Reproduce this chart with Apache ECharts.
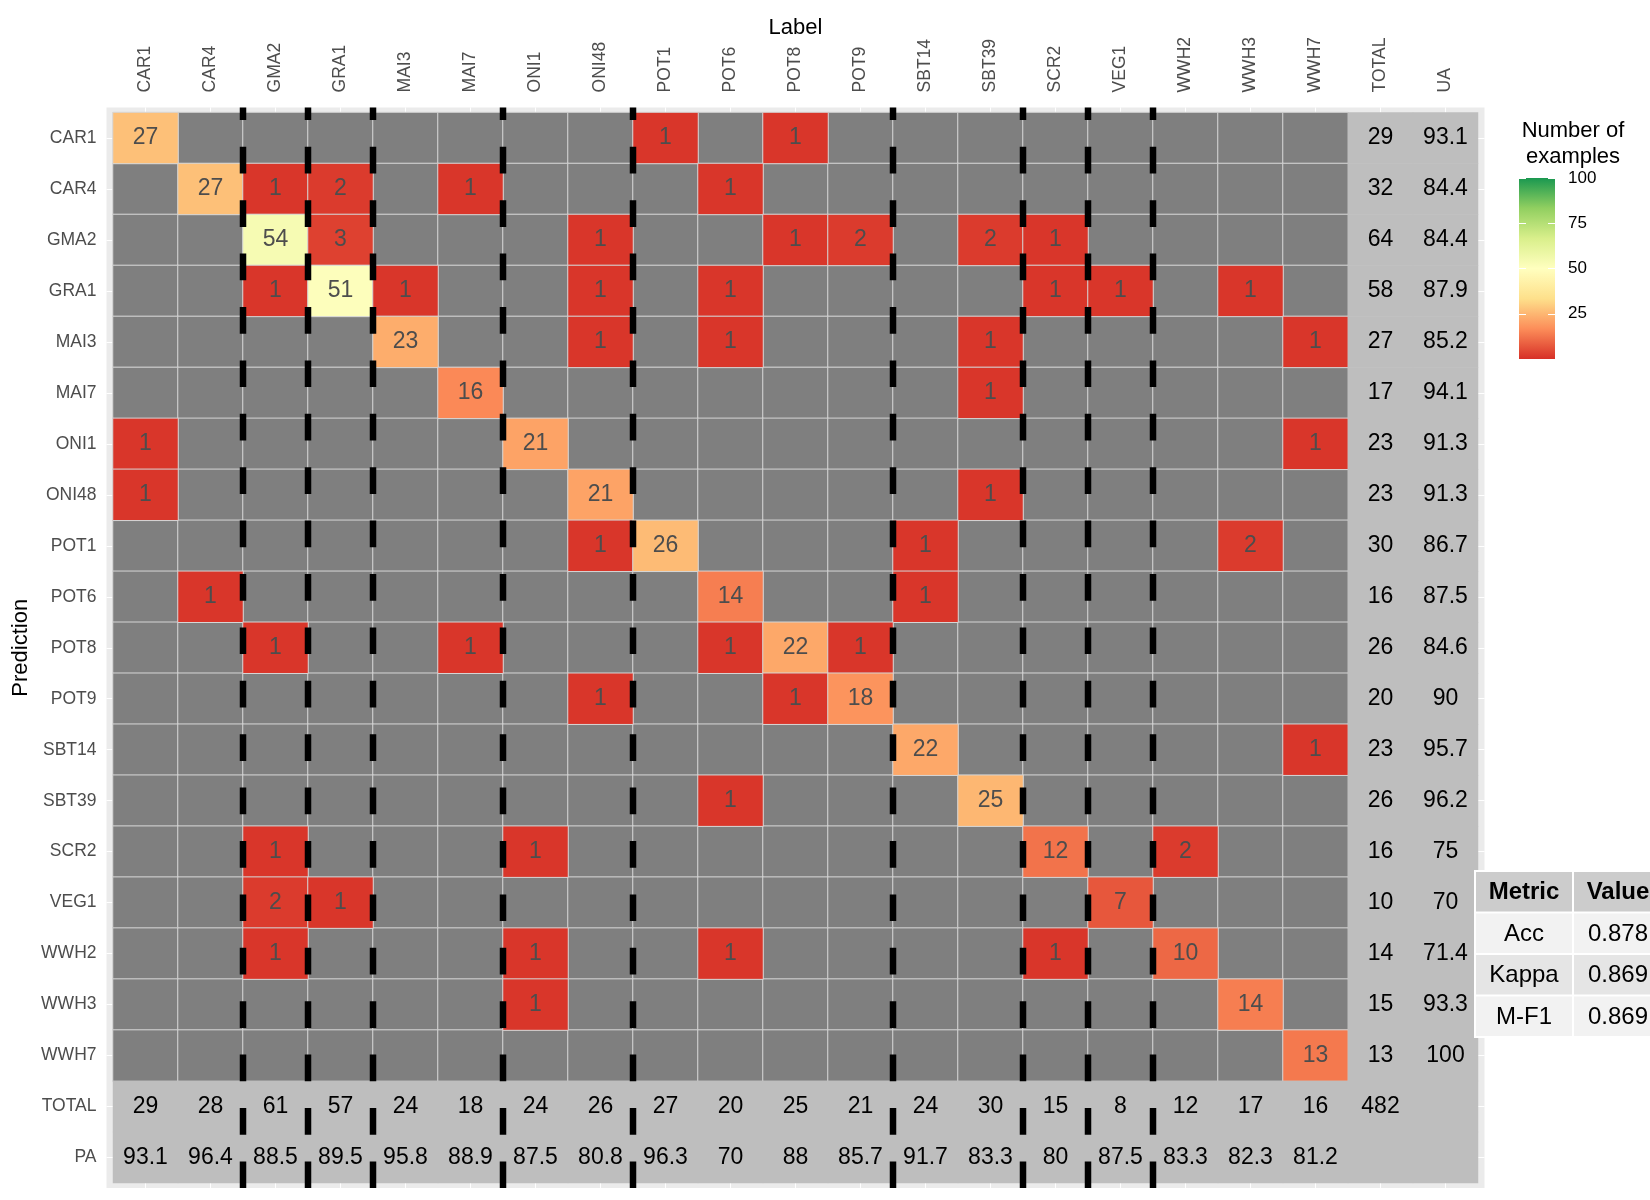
<!DOCTYPE html>
<html>
<head>
<meta charset="utf-8">
<title>Confusion matrix</title>
<script src="https://cdn.jsdelivr.net/npm/echarts@6/dist/echarts.min.js"></script>
<style>
  html, body { margin: 0; padding: 0; background: #fff; }
  #main { width: 1650px; height: 1200px; }
</style>
</head>
<body>
<div id="main"></div>
<script>
// classes, in axis order
var classes = ['CAR1', 'CAR4', 'GMA2', 'GRA1', 'MAI3', 'MAI7', 'ONI1', 'ONI48', 'POT1', 'POT6',
               'POT8', 'POT9', 'SBT14', 'SBT39', 'SCR2', 'VEG1', 'WWH2', 'WWH3', 'WWH7'];
var colLabels = classes.concat(['TOTAL', 'UA']);
var rowLabels = classes.concat(['TOTAL', 'PA']);

// rows = Prediction, columns = Label
var counts = [
    [27, 0, 0, 0, 0, 0, 0, 0, 1, 0, 1, 0, 0, 0, 0, 0, 0, 0, 0],
    [0, 27, 1, 2, 0, 1, 0, 0, 0, 1, 0, 0, 0, 0, 0, 0, 0, 0, 0],
    [0, 0, 54, 3, 0, 0, 0, 1, 0, 0, 1, 2, 0, 2, 1, 0, 0, 0, 0],
    [0, 0, 1, 51, 1, 0, 0, 1, 0, 1, 0, 0, 0, 0, 1, 1, 0, 1, 0],
    [0, 0, 0, 0, 23, 0, 0, 1, 0, 1, 0, 0, 0, 1, 0, 0, 0, 0, 1],
    [0, 0, 0, 0, 0, 16, 0, 0, 0, 0, 0, 0, 0, 1, 0, 0, 0, 0, 0],
    [1, 0, 0, 0, 0, 0, 21, 0, 0, 0, 0, 0, 0, 0, 0, 0, 0, 0, 1],
    [1, 0, 0, 0, 0, 0, 0, 21, 0, 0, 0, 0, 0, 1, 0, 0, 0, 0, 0],
    [0, 0, 0, 0, 0, 0, 0, 1, 26, 0, 0, 0, 1, 0, 0, 0, 0, 2, 0],
    [0, 1, 0, 0, 0, 0, 0, 0, 0, 14, 0, 0, 1, 0, 0, 0, 0, 0, 0],
    [0, 0, 1, 0, 0, 1, 0, 0, 0, 1, 22, 1, 0, 0, 0, 0, 0, 0, 0],
    [0, 0, 0, 0, 0, 0, 0, 1, 0, 0, 1, 18, 0, 0, 0, 0, 0, 0, 0],
    [0, 0, 0, 0, 0, 0, 0, 0, 0, 0, 0, 0, 22, 0, 0, 0, 0, 0, 1],
    [0, 0, 0, 0, 0, 0, 0, 0, 0, 1, 0, 0, 0, 25, 0, 0, 0, 0, 0],
    [0, 0, 1, 0, 0, 0, 1, 0, 0, 0, 0, 0, 0, 0, 12, 0, 2, 0, 0],
    [0, 0, 2, 1, 0, 0, 0, 0, 0, 0, 0, 0, 0, 0, 0, 7, 0, 0, 0],
    [0, 0, 1, 0, 0, 0, 1, 0, 0, 1, 0, 0, 0, 0, 1, 0, 10, 0, 0],
    [0, 0, 0, 0, 0, 0, 1, 0, 0, 0, 0, 0, 0, 0, 0, 0, 0, 14, 0],
    [0, 0, 0, 0, 0, 0, 0, 0, 0, 0, 0, 0, 0, 0, 0, 0, 0, 0, 13]
];

var rowTotals = [29, 32, 64, 58, 27, 17, 23, 23, 30, 16, 26, 20, 23, 26, 16, 10, 14, 15, 13];
var uaValues = [93.1, 84.4, 84.4, 87.9, 85.2, 94.1, 91.3, 91.3, 86.7, 87.5, 84.6, 90, 95.7, 96.2, 75, 70, 71.4, 93.3, 100];
var colTotals = [29, 28, 61, 57, 24, 18, 24, 26, 27, 20, 25, 21, 24, 30, 15, 8, 12, 17, 16];
var paValues = [93.1, 96.4, 88.5, 89.5, 95.8, 88.9, 87.5, 80.8, 96.3, 70, 88, 85.7, 91.7, 83.3, 80, 87.5, 83.3, 82.3, 81.2];
var grandTotal = 482;

// a dashed separator is drawn on the left side of these label columns
var dashedBefore = ['GMA2', 'GRA1', 'MAI3', 'ONI1', 'POT1', 'SBT14', 'SCR2', 'VEG1', 'WWH2'];

var metricNames = ['Acc', 'Kappa', 'M-F1'];
var metricValues = ['0.878', '0.869', '0.869'];

var legendBreaks = [25, 50, 75, 100];
var rdYlGn = ['#D73027', '#FC8D59', '#FEE08B', '#FFFFBF', '#D9EF8B', '#91CF60', '#1A9850'];

// layout (pixels)
var gx = 113, gy = 112.5, gw = 1365, gh = 1070.5;
var padX = 6.5, padY = 5.1;
var font = '"Liberation Sans", Arial, Helvetica, sans-serif';

// build heatmap cells
var zeroCells = [], countCells = [], marginCells = [];
counts.forEach(function (row, i) {
    row.forEach(function (v, j) {
        if (v === 0) zeroCells.push([j, i, 0]);
        else countCells.push([j, i, v]);
    });
    marginCells.push([19, i, rowTotals[i], String(rowTotals[i])]);
    marginCells.push([20, i, uaValues[i], String(uaValues[i])]);
});
colTotals.forEach(function (v, j) {
    marginCells.push([j, 19, v, String(v)]);
    marginCells.push([j, 20, paValues[j], String(paValues[j])]);
});
marginCells.push([19, 19, grandTotal, String(grandTotal)]);
marginCells.push([20, 19, 0, '']);
marginCells.push([19, 20, 0, '']);
marginCells.push([20, 20, 0, '']);

function whiteTicks(len) {
    return { show: true, alignWithLabel: true, interval: 0, length: len, lineStyle: { color: '#fff', width: 1 } };
}

function renderSeparator(params, api) {
    var size = api.size([1, 1]);
    var x = api.coord([api.value(0), 0])[0] - size[0] / 2;
    var top = api.coord([0, 0])[1] - size[1] / 2 - padY;
    var bottom = api.coord([0, rowLabels.length - 1])[1] + size[1] / 2 + padY;
    return {
        type: 'line',
        shape: { x1: x, y1: bottom, x2: x, y2: top },
        style: { stroke: '#000', lineWidth: 6.5, lineDash: [26.7, 26.7], lineCap: 'butt' }
    };
}

// panel background, legend title, metrics table
var graphics = [
    { type: 'rect', z: -10, silent: true,
      shape: { x: gx - padX, y: gy - padY, width: gw + 2 * padX, height: gh + 2 * padY },
      style: { fill: '#EBEBEB' } },
    { type: 'text', x: 1573, y: 117.5, silent: true,
      style: { text: 'Number of\nexamples', align: 'center', verticalAlign: 'top',
               font: '22px ' + font, lineHeight: 26, fill: '#000' } }
];

var tX = 1476, tY = 872, colW = [96, 88], rowH = 39.5, gap = 2;
var tableRows = [['Metric', 'Value']];
metricNames.forEach(function (n, i) { tableRows.push([n, metricValues[i]]); });
var rowFills = ['#CCCCCC', '#F2F2F2', '#E5E5E5', '#F2F2F2'];
graphics.push({ type: 'rect', z: 50, silent: true,
    shape: { x: tX - 2, y: tY - 2, width: 300, height: tableRows.length * (rowH + gap) + 2 },
    style: { fill: '#fff' } });
tableRows.forEach(function (r, i) {
    var cx = tX;
    r.forEach(function (txt, c) {
        var y = tY + i * (rowH + gap);
        graphics.push({ type: 'rect', z: 51, silent: true,
            shape: { x: cx, y: y, width: colW[c], height: rowH },
            style: { fill: rowFills[i] } });
        graphics.push({ type: 'text', z: 52, silent: true,
            x: cx + colW[c] / 2, y: y + rowH / 2 + 1,
            style: { text: txt, align: 'center', verticalAlign: 'middle',
                     font: (i === 0 ? 'bold ' : '') + '24px ' + font, fill: '#000' } });
        cx += colW[c] + gap;
    });
});

var myChart = echarts.init(document.getElementById('main'));
var option = {
    animation: false,
    textStyle: { fontFamily: font },
    title: {
        text: 'Label', left: gx + gw / 2, top: 17, textAlign: 'center', padding: 0,
        textStyle: { fontSize: 22, fontWeight: 'normal', color: '#000' }
    },
    grid: [
        { left: gx, top: gy, width: gw, height: gh, containLabel: false },
        { left: 1519, top: 178, width: 36, height: 181, containLabel: false }
    ],
    xAxis: [
        {
            type: 'category', data: colLabels, position: 'top', offset: padY,
            axisLine: { show: false },
            axisTick: { alignWithLabel: true, interval: 0, length: 5.5, lineStyle: { color: '#333', width: 1.5 } },
            axisLabel: { interval: 0, rotate: -90, color: '#4D4D4D', fontSize: 17.5, margin: 15 },
            splitLine: { show: false }
        },
        { type: 'category', data: colLabels, position: 'top', offset: 0,
          axisLine: { show: false }, axisTick: whiteTicks(padY), axisLabel: { show: false } },
        { type: 'category', data: colLabels, position: 'bottom', offset: 0,
          axisLine: { show: false }, axisTick: whiteTicks(padY), axisLabel: { show: false } },
        { type: 'category', gridIndex: 1, data: [''], show: false }
    ],
    yAxis: [
        {
            type: 'category', data: rowLabels, inverse: true, position: 'left', offset: padX,
            axisLine: { show: false },
            axisTick: { alignWithLabel: true, interval: 0, length: 5.5, lineStyle: { color: '#333', width: 1.5 } },
            axisLabel: { interval: 0, color: '#4D4D4D', fontSize: 17.5, margin: 10 },
            splitLine: { show: false },
            name: 'Prediction', nameLocation: 'middle', nameGap: 75, nameRotate: 90,
            nameMoveOverlap: false,
            nameTextStyle: { fontSize: 22, color: '#000' }
        },
        { type: 'category', data: rowLabels, inverse: true, position: 'left', offset: 0,
          axisLine: { show: false }, axisTick: whiteTicks(padX), axisLabel: { show: false } },
        { type: 'category', data: rowLabels, inverse: true, position: 'right', offset: 0,
          axisLine: { show: false }, axisTick: whiteTicks(padX), axisLabel: { show: false } },
        {
            type: 'value', gridIndex: 1, min: 0, max: 100, interval: 25, position: 'right', z: 5,
            axisLine: { show: false },
            axisTick: { show: true, inside: true, length: 7, customValues: legendBreaks,
                        lineStyle: { color: '#fff', width: 1 } },
            axisLabel: { customValues: legendBreaks, color: '#000', fontSize: 17, margin: 13,
                         formatter: function (v) { return v === 0 ? '' : v; } },
            splitLine: { show: false }
        },
        {
            type: 'value', gridIndex: 1, min: 0, max: 100, interval: 25, position: 'left', z: 5,
            axisLine: { show: false },
            axisTick: { show: true, inside: true, length: 7, customValues: legendBreaks,
                        lineStyle: { color: '#fff', width: 1 } },
            axisLabel: { show: false },
            splitLine: { show: false }
        }
    ],
    visualMap: [
        { type: 'continuous', show: false, seriesIndex: 1, dimension: 2, min: 0, max: 100,
          inRange: { color: rdYlGn } },
        { type: 'continuous', show: false, seriesIndex: 0, dimension: 2, min: 0, max: 1,
          inRange: { color: ['#7F7F7F', '#7F7F7F'] } },
        { type: 'continuous', show: false, seriesIndex: 2, dimension: 2, min: 0, max: 1000,
          inRange: { color: ['#BEBEBE', '#BEBEBE'] } }
    ],
    series: [
        {
            name: 'zero', type: 'heatmap', data: zeroCells, silent: true,
            itemStyle: { borderColor: '#D6D6D6', borderWidth: 1 },
            emphasis: { disabled: true }
        },
        {
            name: 'counts', type: 'heatmap', data: countCells, silent: true,
            itemStyle: { borderColor: '#D6D6D6', borderWidth: 1 },
            label: { show: true, color: '#4D4D4D', fontSize: 23,
                     formatter: function (p) { return p.data[2]; } },
            emphasis: { disabled: true }
        },
        {
            name: 'margins', type: 'heatmap', data: marginCells, silent: true,
            itemStyle: { borderWidth: 0 },
            label: { show: true, color: '#000', fontSize: 23,
                     formatter: function (p) { return p.data[3]; } },
            emphasis: { disabled: true }
        },
        {
            name: 'separators', type: 'custom', renderItem: renderSeparator, clip: false, z: 5, silent: true,
            data: dashedBefore.map(function (c) { return [c, rowLabels[0]]; })
        },
        {
            name: 'legend bar', type: 'bar', xAxisIndex: 3, yAxisIndex: 3, data: [100],
            barWidth: '100%', silent: true, z: 1,
            itemStyle: {
                color: new echarts.graphic.LinearGradient(0, 1, 0, 0, rdYlGn.map(function (c, i) {
                    return { offset: i / (rdYlGn.length - 1), color: c };
                }))
            }
        }
    ],
    graphic: graphics
};

myChart.setOption(option);
</script>
</body>
</html>
